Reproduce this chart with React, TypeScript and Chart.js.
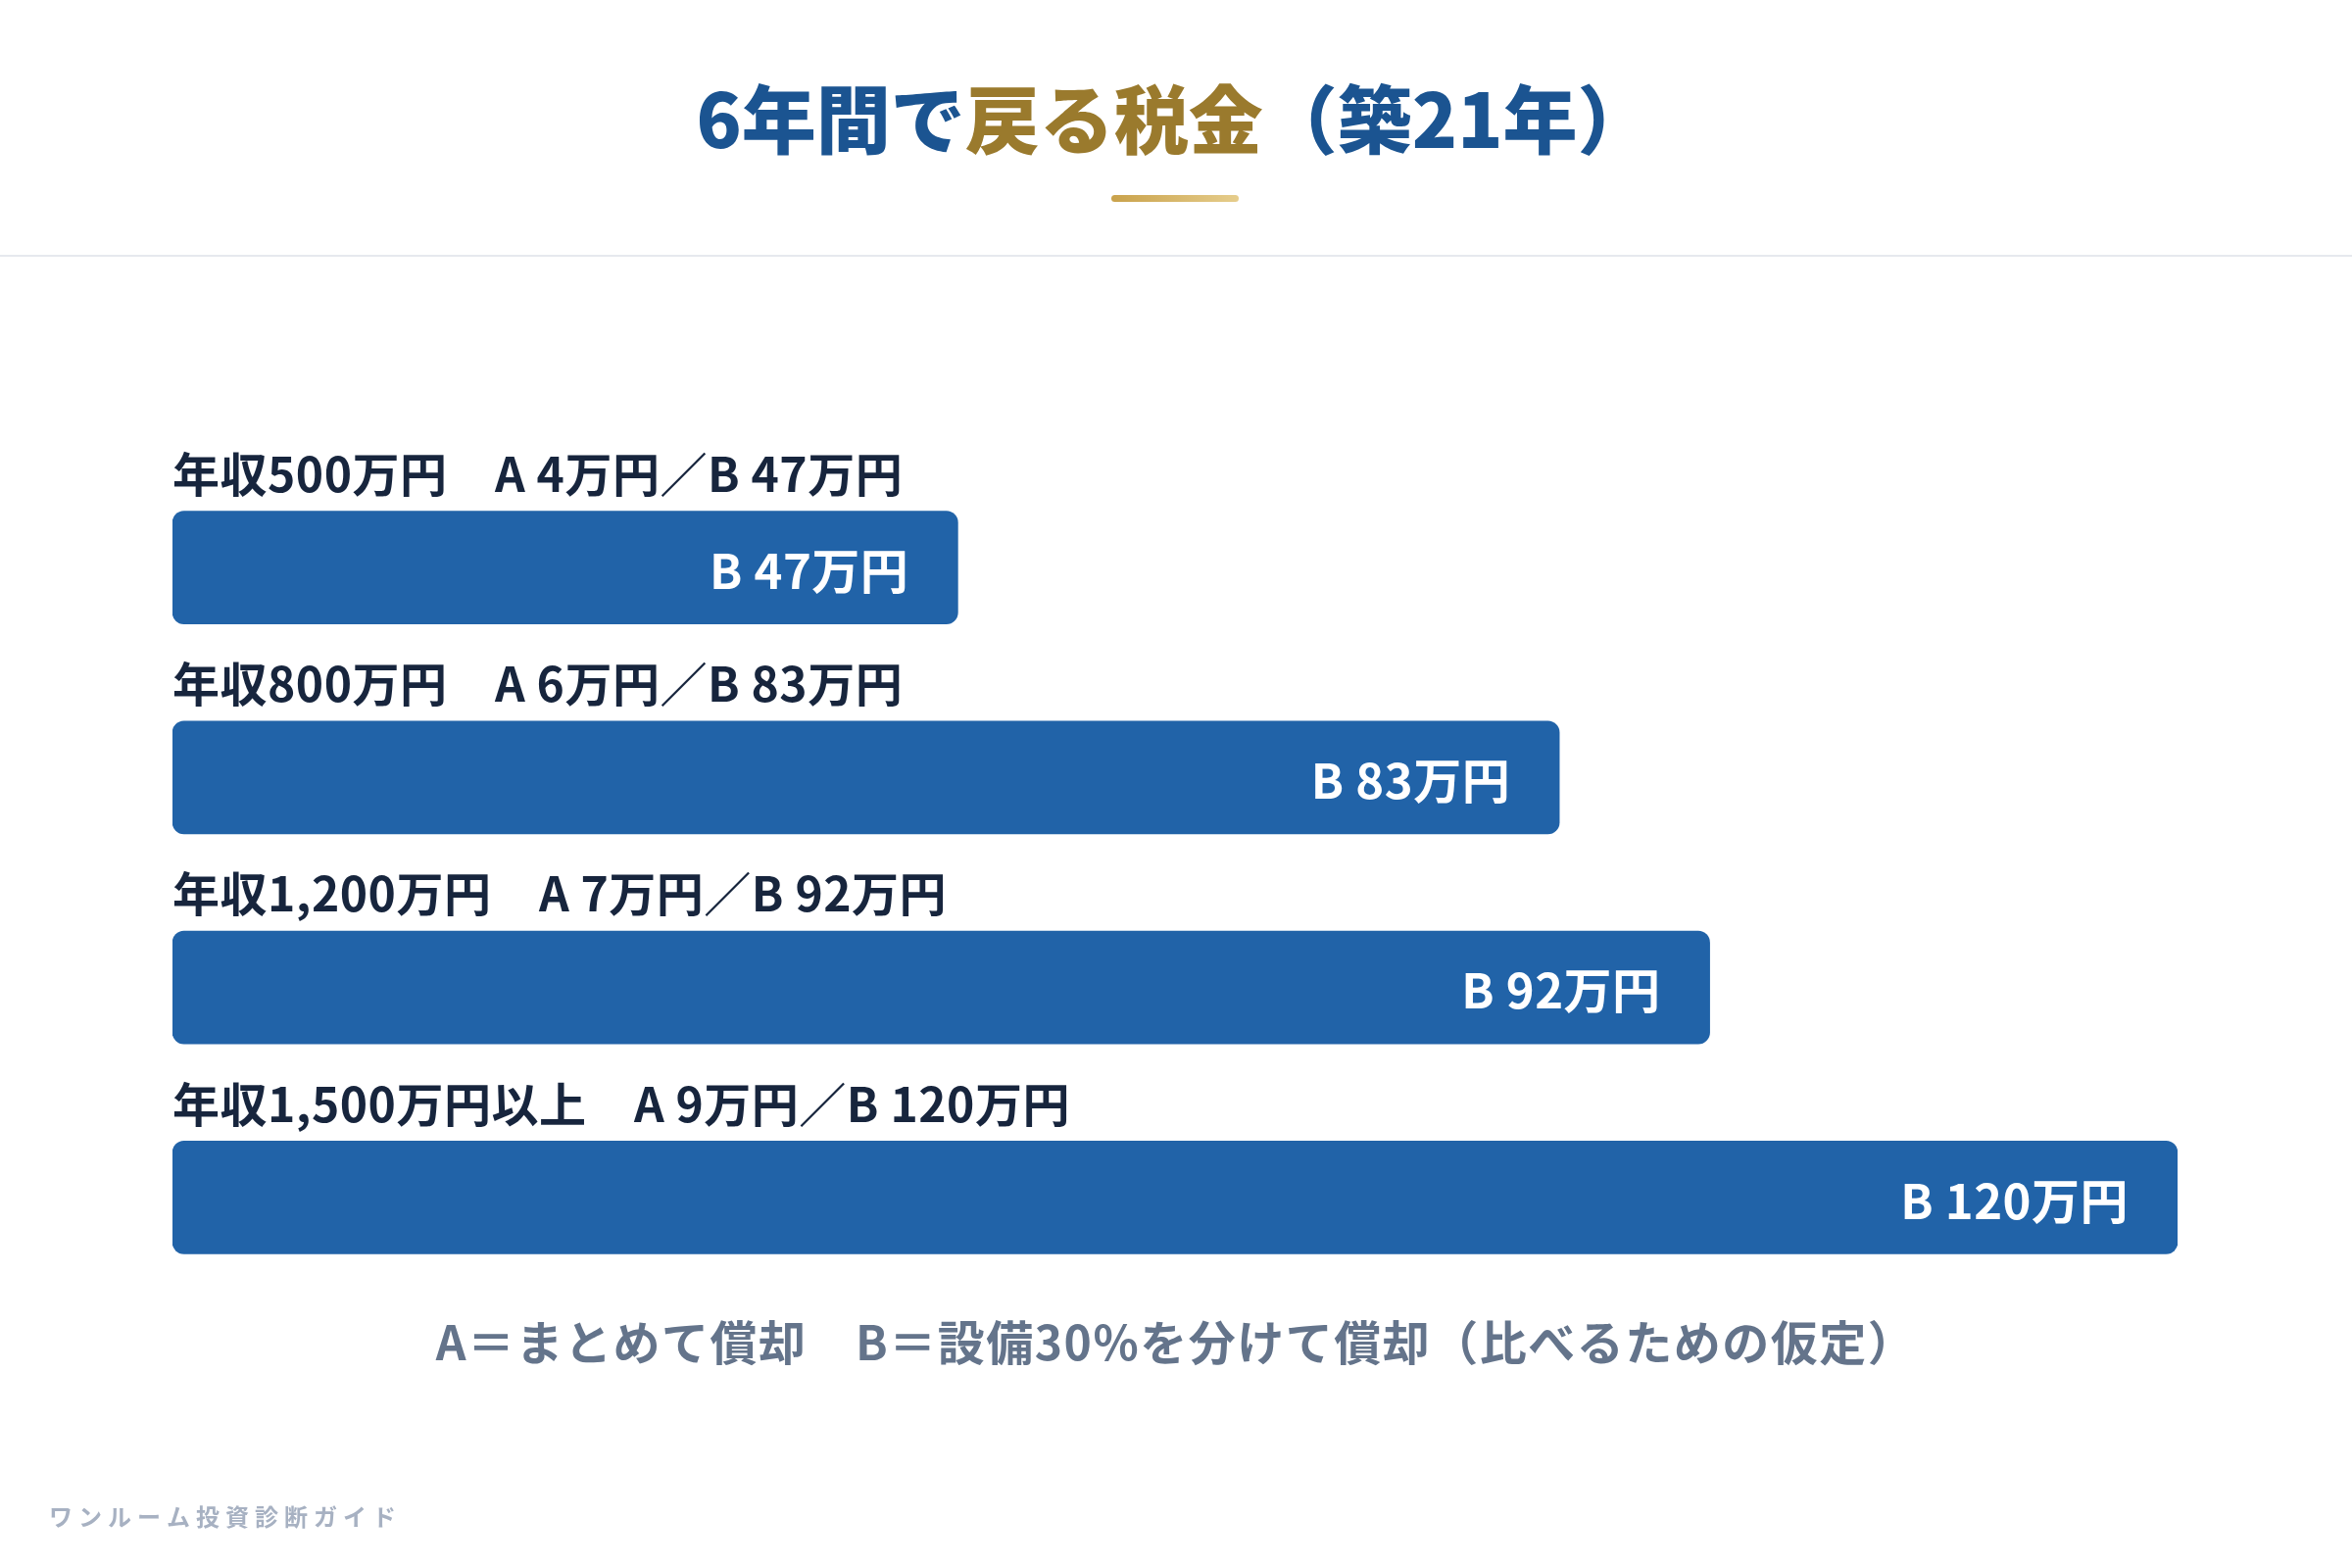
import React, { useEffect, useRef } from "react";
import { Chart, registerables } from "chart.js";

Chart.register(...registerables);

const categories = ["年収500万円", "年収800万円", "年収1,200万円", "年収1,500万円以上"];
const aValues = [4, 6, 7, 9];
const bValues = [47, 83, 92, 120];
const xMax = 120;

const titleParts = [
  { text: "6年間で", color: "#1B5491" },
  { text: "戻る税金", color: "#9A7A2D" },
  { text: "（築21年）", color: "#1B5491" },
];
const caption = "A＝まとめて償却　B＝設備30%を分けて償却（比べるための仮定）";
const footer = "ワンルーム投資診断ガイド";

const FONT = '"Noto Sans CJK JP", "Noto Sans", sans-serif';

export default function App() {
  const ref = useRef<HTMLCanvasElement | null>(null);

  useEffect(() => {
    const canvas = ref.current;
    if (!canvas) return;

    const decor = {
      id: "decor",
      afterDraw(chart: any) {
        const ctx = chart.ctx as CanvasRenderingContext2D;
        const W = chart.width;
        ctx.save();
        // title
        ctx.font = `900 76px ${FONT}`;
        ctx.textBaseline = "middle";
        const widths = titleParts.map((p) => ctx.measureText(p.text).width);
        const total = widths.reduce((s, w) => s + w, 0);
        let x = W / 2 - total / 2 - 2;
        titleParts.forEach((p, i) => {
          ctx.fillStyle = p.color;
          ctx.textAlign = "left";
          ctx.fillText(p.text, x, 122);
          x += widths[i];
        });
        // gold underline
        const g = ctx.createLinearGradient(1134, 0, 1264, 0);
        g.addColorStop(0, "#C9A24B");
        g.addColorStop(1, "#E6CD8C");
        ctx.fillStyle = g;
        ctx.beginPath();
        (ctx as any).roundRect(1134, 199, 130, 7, 3.5);
        ctx.fill();
        // divider
        ctx.fillStyle = "#E6E9EE";
        ctx.fillRect(0, 260, W, 2);

        // bar labels
        const meta = chart.getDatasetMeta(0);
        meta.data.forEach((bar: any, i: number) => {
          const top = bar.y - bar.height / 2;
          ctx.font = `700 48px ${FONT}`;
          (ctx as any).letterSpacing = "0.5px";
          ctx.fillStyle = "#17253D";
          ctx.textAlign = "left";
          ctx.textBaseline = "middle";
          ctx.fillText(
            `${categories[i]}　A ${aValues[i]}万円／B ${bValues[i]}万円`,
            chart.chartArea.left,
            top - 38
          );
          ctx.font = `700 49px ${FONT}`;
          (ctx as any).letterSpacing = "0.5px";
          ctx.fillStyle = "#FFFFFF";
          ctx.textAlign = "right";
          ctx.fillText(`B ${bValues[i]}万円`, bar.x - 50, bar.y + 3);
        });

        // caption
        ctx.font = `700 48px ${FONT}`;
        (ctx as any).letterSpacing = "1.5px";
        ctx.fillStyle = "#64748B";
        ctx.textAlign = "center";
        ctx.textBaseline = "middle";
        ctx.fillText(caption, 1200, 1370);

        // footer
        ctx.font = `700 24px ${FONT}`;
        ctx.fillStyle = "#A7B1C2";
        ctx.textAlign = "left";
        (ctx as any).letterSpacing = "6px";
        ctx.fillText(footer, 50, 1548);
        ctx.restore();
      },
    };

    const chart = new Chart(canvas, {
      type: "bar",
      data: {
        labels: categories,
        datasets: [
          {
            data: bValues,
            backgroundColor: "#2163A8",
            borderRadius: 12,
            borderSkipped: false,
            barThickness: 115,
          },
        ],
      },
      options: {
        indexAxis: "y",
        responsive: false,
        animation: false,
        devicePixelRatio: 1,
        layout: { padding: { left: 176, right: 178, top: 472, bottom: 271 } },
        scales: {
          x: { display: false, min: 0, max: xMax, grid: { display: false } },
          y: { display: false, grid: { display: false } },
        },
        plugins: {
          legend: { display: false },
          tooltip: { enabled: false },
          title: { display: false },
        },
      },
      plugins: [decor],
    } as any);

    return () => chart.destroy();
  }, []);

  return (
    <div style={{ position: "absolute", left: 0, top: 0, width: 2400, height: 1600, background: "#FFFFFF" }}>
      <canvas ref={ref} width={2400} height={1600} style={{ width: 2400, height: 1600, display: "block" }} />
    </div>
  );
}
